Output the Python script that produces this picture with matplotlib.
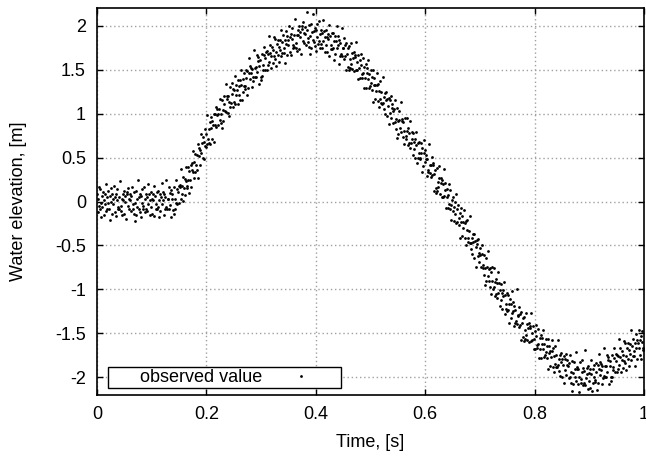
import numpy as np
import matplotlib
matplotlib.use('Agg')
import matplotlib.pyplot as plt
from matplotlib.ticker import FormatStrFormatter

plt.rcParams['font.family'] = ['Liberation Sans', 'DejaVu Sans']
plt.rcParams['axes.unicode_minus'] = False

# sampling of the record: one value every millisecond from t = 0
t_start = 0.0
t_step = 0.001

# observed water elevation [m] (10 values per 0.01 s)
elevation = [
    0.08, -0.12, 0.03, 0.17, -0.05, -0.09, 0.14, -0.02, -0.18, 0.06,
    -0.06, 0.11, -0.15, 0.02, 0.09, -0.03, 0.20, -0.11, 0.05, -0.08,
    0.12, -0.02, -0.09, 0.06, -0.21, 0.15, 0.00, 0.08, -0.14, 0.03,
    -0.03, 0.18, 0.05, -0.12, 0.09, -0.17, 0.02, 0.14, -0.06, -0.09,
    0.05, -0.08, 0.23, -0.05, -0.11, 0.03, -0.15, 0.09, 0.02, 0.12,
    -0.14, 0.06, 0.00, -0.20, 0.11, 0.08, -0.05, 0.15, -0.09, 0.03,
    0.09, 0.02, -0.11, 0.06, 0.17, -0.08, -0.03, -0.14, 0.11, -0.22,
    -0.02, -0.15, 0.12, 0.03, -0.06, 0.24, -0.09, 0.05, 0.08, -0.12,
    0.06, -0.18, -0.02, 0.14, -0.09, -0.05, 0.17, 0.03, -0.12, 0.08,
    -0.08, 0.05, -0.11, 0.20, -0.03, 0.09, 0.02, -0.15, 0.11, -0.06,
    0.03, -0.14, 0.08, 0.02, 0.18, -0.17, 0.06, -0.09, -0.03, 0.11,
    -0.08, -0.06, 0.12, 0.02, -0.18, 0.09, -0.11, 0.05, 0.21, -0.03,
    0.11, 0.02, 0.08, -0.15, 0.05, -0.09, -0.06, 0.24, -0.08, 0.03,
    0.03, -0.09, 0.16, -0.04, 0.10, 0.13, -0.18, 0.03, 0.09, -0.10,
    -0.14, 0.16, -0.09, 0.03, -0.02, 0.24, 0.14, -0.03, 0.11, 0.18,
    -0.02, 0.19, 0.17, 0.03, 0.37, 0.08, 0.18, 0.28, 0.01, 0.15,
    0.26, 0.07, 0.23, 0.39, 0.18, 0.15, 0.39, 0.24, 0.10, 0.35,
    0.24, 0.42, 0.17, 0.36, 0.44, 0.33, 0.57, 0.27, 0.45, 0.33,
    0.54, 0.42, 0.36, 0.53, 0.27, 0.65, 0.52, 0.61, 0.41, 0.59,
    0.55, 0.77, 0.66, 0.50, 0.73, 0.48, 0.68, 0.82, 0.63, 0.62,
    0.77, 0.65, 0.98, 0.71, 0.66, 0.82, 0.65, 0.90, 0.84, 0.96,
    0.71, 0.92, 0.87, 0.68, 1.00, 0.99, 0.87, 1.08, 0.85, 0.98,
    1.05, 0.99, 0.87, 1.05, 1.17, 0.93, 0.99, 0.89, 1.15, 0.83,
    1.04, 0.92, 1.20, 1.11, 1.03, 1.34, 1.02, 1.17, 1.20, 1.01,
    1.20, 0.97, 1.13, 1.30, 1.08, 1.12, 1.35, 1.22, 1.08, 1.28,
    1.13, 1.27, 1.11, 1.43, 1.21, 1.33, 1.27, 1.11, 1.38, 1.21,
    1.31, 1.15, 1.38, 1.32, 1.49, 1.15, 1.39, 1.25, 1.31, 1.46,
    1.28, 1.31, 1.49, 1.40, 1.21, 1.48, 1.29, 1.46, 1.63, 1.39,
    1.54, 1.46, 1.52, 1.30, 1.51, 1.37, 1.41, 1.72, 1.41, 1.52,
    1.53, 1.42, 1.66, 1.47, 1.60, 1.64, 1.34, 1.54, 1.61, 1.41,
    1.38, 1.68, 1.43, 1.55, 1.50, 1.76, 1.66, 1.49, 1.63, 1.70,
    1.50, 1.71, 1.68, 1.55, 1.88, 1.59, 1.69, 1.78, 1.52, 1.65,
    1.76, 1.57, 1.72, 1.87, 1.65, 1.62, 1.85, 1.70, 1.54, 1.79,
    1.67, 1.84, 1.59, 1.76, 1.84, 1.72, 1.95, 1.65, 1.81, 1.69,
    1.89, 1.75, 1.69, 1.84, 1.58, 1.94, 1.79, 1.88, 1.66, 1.84,
    1.78, 1.99, 1.87, 1.70, 1.91, 1.66, 1.85, 1.97, 1.78, 1.75,
    1.89, 1.76, 2.08, 1.80, 1.74, 1.89, 1.71, 1.95, 1.89, 1.99,
    1.73, 1.93, 1.87, 1.68, 1.99, 1.96, 1.83, 2.04, 1.80, 1.92,
    1.98, 1.91, 1.78, 1.95, 2.15, 1.81, 1.86, 1.76, 2.01, 1.68,
    1.88, 1.75, 2.02, 1.93, 1.84, 2.13, 1.81, 1.94, 1.97, 1.77,
    1.95, 1.71, 1.87, 2.02, 1.79, 1.83, 2.05, 1.91, 1.75, 1.95,
    1.79, 1.92, 1.75, 2.06, 1.83, 1.94, 1.87, 1.70, 1.95, 1.78,
    1.87, 1.70, 1.91, 1.85, 2.01, 1.65, 1.88, 1.73, 1.78, 1.92,
    1.73, 1.75, 1.92, 1.82, 1.61, 1.88, 1.68, 1.83, 1.99, 1.74,
    1.88, 1.78, 1.84, 1.56, 1.80, 1.65, 1.68, 1.97, 1.65, 1.75,
    1.75, 1.62, 1.86, 1.65, 1.78, 1.80, 1.49, 1.68, 1.74, 1.53,
    1.49, 1.77, 1.52, 1.62, 1.56, 1.80, 1.69, 1.51, 1.63, 1.70,
    1.48, 1.67, 1.64, 1.49, 1.81, 1.50, 1.59, 1.67, 1.39, 1.52,
    1.61, 1.40, 1.55, 1.68, 1.45, 1.40, 1.63, 1.46, 1.29, 1.53,
    1.40, 1.56, 1.29, 1.46, 1.52, 1.39, 1.61, 1.29, 1.45, 1.31,
    1.50, 1.35, 1.27, 1.41, 1.13, 1.49, 1.33, 1.40, 1.17, 1.33,
    1.26, 1.46, 1.32, 1.14, 1.34, 1.08, 1.26, 1.37, 1.16, 1.12,
    1.25, 1.11, 1.41, 1.12, 1.05, 1.19, 1.00, 1.23, 1.15, 1.24,
    0.97, 1.16, 1.09, 0.88, 1.18, 1.15, 1.01, 1.20, 0.95, 1.06,
    1.11, 1.03, 0.89, 1.05, 1.15, 0.90, 0.94, 0.82, 1.06, 0.72,
    0.91, 0.77, 1.03, 0.93, 0.83, 1.13, 0.79, 0.92, 0.94, 0.73,
    0.90, 0.65, 0.80, 0.95, 0.71, 0.74, 0.95, 0.80, 0.64, 0.83,
    0.66, 0.78, 0.61, 0.91, 0.67, 0.79, 0.71, 0.53, 0.78, 0.60,
    0.68, 0.50, 0.71, 0.64, 0.79, 0.44, 0.66, 0.50, 0.55, 0.68,
    0.48, 0.49, 0.66, 0.55, 0.34, 0.61, 0.40, 0.55, 0.70, 0.45,
    0.58, 0.48, 0.53, 0.29, 0.48, 0.34, 0.36, 0.65, 0.32, 0.42,
    0.41, 0.28, 0.51, 0.30, 0.42, 0.44, 0.12, 0.31, 0.36, 0.15,
    0.10, 0.38, 0.12, 0.22, 0.16, 0.40, 0.27, 0.09, 0.21, 0.27,
    0.05, 0.24, 0.20, 0.05, 0.37, 0.06, 0.13, 0.21, -0.07, 0.05,
    0.14, -0.07, 0.07, 0.20, -0.03, -0.08, 0.13, -0.04, -0.21, 0.02,
    -0.11, 0.05, -0.22, -0.06, 0.00, -0.14, 0.08, -0.24, -0.09, -0.23,
    -0.04, -0.19, -0.27, -0.13, -0.41, -0.07, -0.23, -0.16, -0.39, -0.23,
    -0.30, -0.10, -0.24, -0.42, -0.22, -0.50, -0.32, -0.21, -0.42, -0.46,
    -0.33, -0.47, -0.17, -0.47, -0.54, -0.41, -0.60, -0.37, -0.46, -0.37,
    -0.64, -0.45, -0.52, -0.74, -0.44, -0.48, -0.62, -0.43, -0.69, -0.58,
    -0.53, -0.61, -0.75, -0.60, -0.50, -0.76, -0.72, -0.84, -0.61, -0.95,
    -0.76, -0.90, -0.64, -0.75, -0.85, -0.56, -0.90, -0.77, -0.76, -0.97,
    -0.80, -1.05, -0.90, -0.75, -0.99, -0.97, -0.76, -0.91, -1.07, -0.88,
    -1.05, -0.93, -1.10, -0.80, -1.04, -0.93, -1.01, -1.19, -0.94, -1.12,
    -1.04, -1.22, -1.01, -1.08, -0.92, -1.28, -1.06, -1.22, -1.17, -1.04,
    -1.24, -1.23, -1.06, -1.17, -1.38, -1.11, -1.32, -1.17, -1.02, -1.27,
    -1.14, -1.24, -1.19, -1.42, -1.23, -1.38, -1.36, -0.99, -1.39, -1.29,
    -1.30, -1.43, -1.20, -1.40, -1.28, -1.26, -1.58, -1.38, -1.33, -1.54,
    -1.59, -1.31, -1.56, -1.46, -1.52, -1.27, -1.39, -1.57, -1.44, -1.38,
    -1.60, -1.41, -1.44, -1.59, -1.27, -1.57, -1.49, -1.41, -1.68, -1.56,
    -1.47, -1.68, -1.53, -1.40, -1.63, -1.67, -1.45, -1.62, -1.78, -1.55,
    -1.68, -1.52, -1.78, -1.62, -1.55, -1.68, -1.46, -1.77, -1.62, -1.75,
    -1.56, -1.71, -1.78, -1.64, -1.91, -1.56, -1.72, -1.64, -1.87, -1.70,
    -1.77, -1.57, -1.70, -1.88, -1.67, -1.94, -1.76, -1.64, -1.85, -1.88,
    -1.75, -1.88, -1.58, -1.86, -1.93, -1.79, -1.98, -1.74, -1.82, -1.72,
    -1.99, -1.79, -1.86, -2.06, -1.76, -1.79, -1.92, -1.73, -1.97, -1.86,
    -1.80, -1.87, -2.01, -1.84, -1.74, -1.99, -1.94, -2.06, -1.81, -2.15,
    -1.95, -2.08, -1.82, -1.91, -2.00, -1.71, -2.04, -1.90, -1.88, -2.08,
    -1.91, -2.17, -1.99, -1.83, -2.06, -2.02, -1.80, -1.94, -2.09, -1.89,
    -2.06, -1.93, -2.09, -1.69, -2.01, -1.89, -1.96, -2.13, -1.87, -2.04,
    -1.95, -2.12, -1.90, -1.96, -1.80, -2.15, -1.91, -2.06, -2.00, -1.86,
    -2.05, -2.03, -1.84, -1.94, -2.14, -1.86, -2.06, -1.90, -1.73, -1.97,
    -1.83, -1.92, -1.85, -2.08, -1.87, -2.01, -1.98, -1.67, -1.99, -1.87,
    -1.87, -1.99, -1.74, -1.94, -1.80, -1.77, -2.08, -1.87, -1.81, -2.00,
    -2.04, -1.75, -1.99, -1.88, -1.92, -1.67, -1.78, -1.94, -1.81, -1.73,
    -1.94, -1.74, -1.76, -1.90, -1.56, -1.86, -1.77, -1.67, -1.94, -1.80,
    -1.70, -1.89, -1.74, -1.59, -1.81, -1.84, -1.61, -1.76, -1.92, -1.67,
    -1.79, -1.61, -1.87, -1.69, -1.62, -1.73, -1.46, -1.80, -1.64, -1.76,
    -1.56, -1.70, -1.76, -1.61, -1.87, -1.51, -1.66, -1.57, -1.79, -1.61,
    -1.67, -1.46, -1.58, -1.75, -1.53, -1.79, -1.60, -1.47, -1.67, -1.69,
]

x_ticks = [0, 0.2, 0.4, 0.6, 0.8, 1]
y_ticks = [-2, -1.5, -1, -0.5, 0, 0.5, 1, 1.5, 2]

time = t_start + t_step * np.arange(len(elevation))

fig = plt.figure(figsize=(6.46, 4.58), dpi=100)
ax = fig.add_axes([97 / 646, 63 / 458, 547 / 646, 387 / 458])

ax.plot(time, elevation, 'o', color='black', markersize=2.0, markeredgewidth=0,
        linestyle='none', label='      observed value')

ax.set_xlim(0, 1)
ax.set_ylim(-2.2, 2.2)
ax.set_xticks(x_ticks)
ax.set_yticks(y_ticks)
ax.xaxis.set_major_formatter(FormatStrFormatter('%g'))
ax.yaxis.set_major_formatter(FormatStrFormatter('%g'))
ax.tick_params(direction='in', length=4.5, width=1, top=True, right=True,
               labelsize=13, pad=8)
ax.grid(True, color='#a0a0a0', linestyle=(0, (1, 2)), linewidth=1)
for s in ax.spines.values():
    s.set_linewidth(1.2)

ax.set_xlabel('Time, [s]', fontsize=13)
ax.set_ylabel('Water elevation, [m]', fontsize=13)
ax.xaxis.set_label_coords(0.5, -0.1)
ax.yaxis.set_label_coords(-0.128, 0.5)

leg = ax.legend(loc='lower left', bbox_to_anchor=(0.02, 0.018), borderaxespad=0,
                markerfirst=False, handlelength=4.3, handletextpad=0, borderpad=0.1,
                fancybox=False, framealpha=1, edgecolor='black', fontsize=13,
                markerscale=1)
leg.get_frame().set_linewidth(1)

fig.savefig('out.png', dpi=100)
